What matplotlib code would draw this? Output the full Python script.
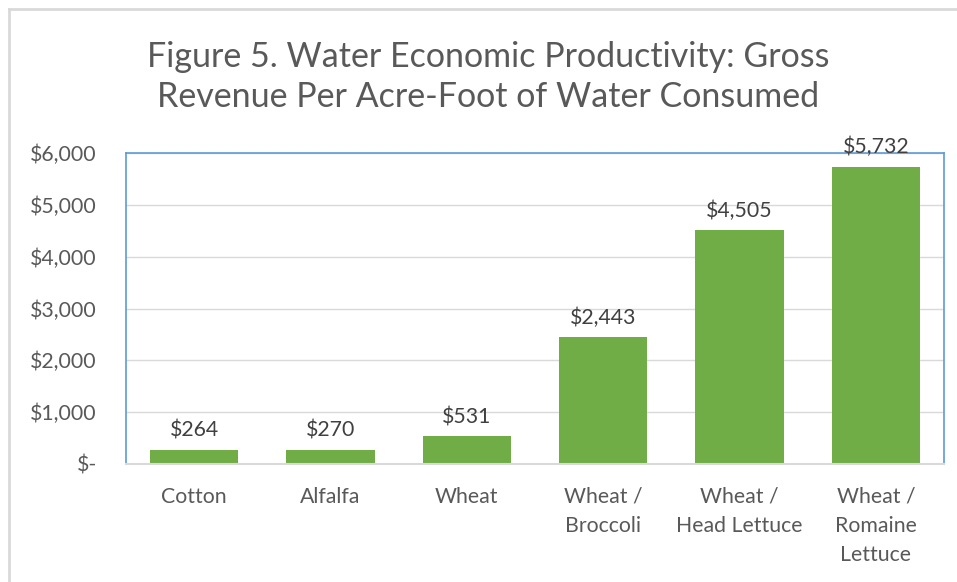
import matplotlib
matplotlib.use("Agg")
import matplotlib.pyplot as plt
from matplotlib.lines import Line2D

categories = ["Cotton", "Alfalfa", "Wheat", "Wheat /\nBroccoli", "Wheat /\nHead Lettuce", "Wheat /\nRomaine\nLettuce"]
values = [264, 270, 531, 2443, 4505, 5732]
yticks = [0, 1000, 2000, 3000, 4000, 5000, 6000]
ytick_labels = ["$-", "$1,000", "$2,000", "$3,000", "$4,000", "$5,000", "$6,000"]
title = "Figure 5. Water Economic Productivity: Gross\nRevenue Per Acre-Foot of Water Consumed"

plt.rcParams['font.family'] = ['Lato', 'DejaVu Sans']
text_color = "#595959"

fig = plt.figure(figsize=(9.57, 5.82), dpi=100)
W, H = 957, 582
ax = fig.add_axes([126 / W, 1 - 464 / H, (944 - 126) / W, (464 - 153) / H])

x = range(len(categories))
ax.bar(x, values, width=0.65, color="#70AD47", zorder=3)
for xi, v in zip(x, values):
    ax.text(xi, v + 180, f"${v:,}", ha="center", va="bottom", fontsize=15.3, color="#404040")

ax.set_xlim(-0.5, len(categories) - 0.5)
ax.set_ylim(0, 6000)
ax.set_yticks(yticks)
ax.set_yticklabels(ytick_labels)
ax.set_xticks(list(x))
ax.set_xticklabels(categories, linespacing=1.58, va="top")
ax.tick_params(axis="both", length=0, labelsize=15.3, colors=text_color)
ax.tick_params(axis="y", pad=21)
ax.tick_params(axis="x", pad=16.5)
for lbl in ax.get_yticklabels():
    lbl.set_horizontalalignment("right")
ax.grid(axis="y", color="#D9D9D9", linewidth=1, zorder=0)
for s in ["left", "right", "top"]:
    ax.spines[s].set_color("#5B9BD5")
    ax.spines[s].set_linewidth(1.2)
ax.spines["bottom"].set_color("#D9D9D9")
ax.spines["bottom"].set_linewidth(1.5)
ax.spines["bottom"].set_zorder(4)

fig.text(488 / W, 1 - 77 / H, title, ha="center", va="center", fontsize=24.5, color=text_color, linespacing=1.34)

# outer chart frame
fig.add_artist(Line2D([9 / W, 9 / W], [0, 1 - 9 / H], transform=fig.transFigure, color="#D9D9D9", lw=2))
fig.add_artist(Line2D([9 / W, 1], [1 - 9 / H, 1 - 9 / H], transform=fig.transFigure, color="#D9D9D9", lw=2))

fig.savefig("out.png", dpi=100)
